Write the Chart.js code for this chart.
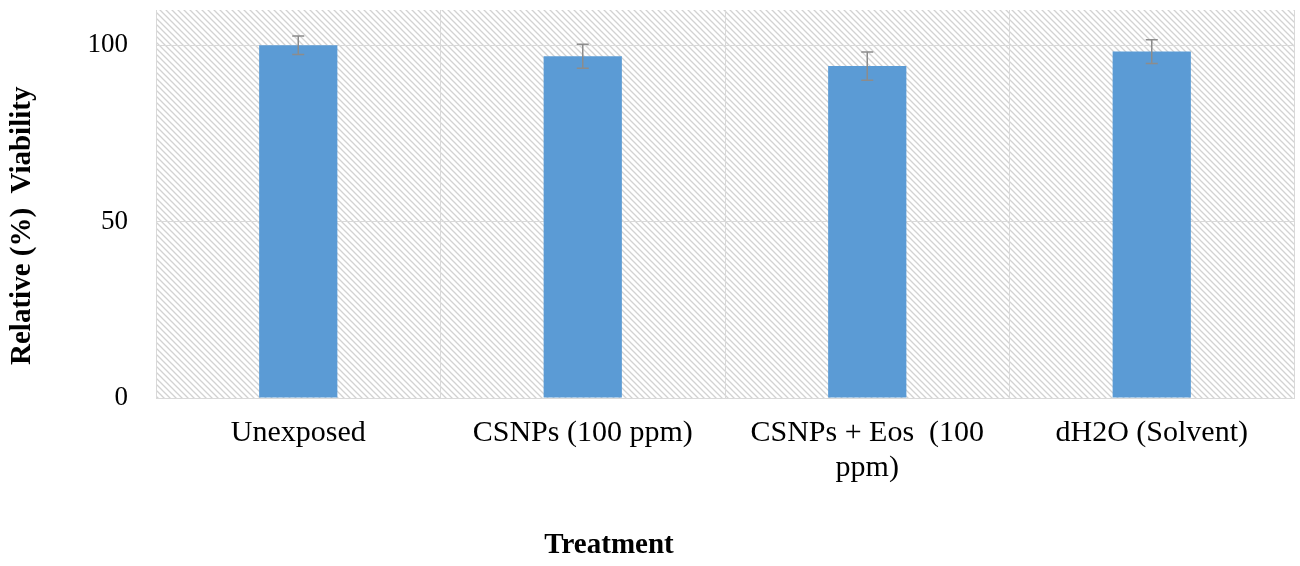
<!DOCTYPE html>
<html>
<head>
<meta charset="utf-8">
<script src="https://cdn.jsdelivr.net/npm/chart.js@4/dist/chart.umd.min.js"></script>
<style>
  html, body { margin: 0; padding: 0; background: #fff; }
  #chart { display: block; }
</style>
</head>
<body>
<canvas id="chart" width="1300" height="566"></canvas>
<script>
// data
const treatments = ['Unexposed', 'CSNPs (100 ppm)', ['CSNPs + Eos  (100', 'ppm)'], 'dH2O (Solvent)'];
const viability = [100, 96.9, 94.1, 98.2];
const viabilityErr = [2.6, 3.4, 4.0, 3.4];
const yTicks = [0, 50, 100];

const serif = "'Liberation Serif', 'Times New Roman', serif";

// Excel put the axis titles off-centre; trailing spaces push the visible text over
const pad = n => '\u00a0'.repeat(n);

// hatched background of the plot area
const makeHatch = () => {
    const c = document.createElement('canvas');
    c.width = 6;
    c.height = 6;
    const g = c.getContext('2d');
    g.fillStyle = '#ffffff';
    g.fillRect(0, 0, 6, 6);
    g.strokeStyle = '#d2d2d2';
    g.lineWidth = 1.3;
    g.beginPath();
    g.moveTo(-1, -1); g.lineTo(7, 7);
    g.moveTo(-1, 5); g.lineTo(1, 7);
    g.moveTo(5, -1); g.lineTo(7, 1);
    g.stroke();
    return c;
};

const hatchBackground = {
    id: 'hatchBackground',
    beforeDraw(chart) {
        const { ctx, chartArea } = chart;
        ctx.save();
        ctx.fillStyle = ctx.createPattern(makeHatch(), 'repeat');
        ctx.fillRect(chartArea.left, chartArea.top, chartArea.right - chartArea.left, chartArea.bottom - chartArea.top);
        ctx.restore();
    }
};

// error bars drawn through the y scale
const errorBars = {
    id: 'errorBars',
    afterDatasetsDraw(chart) {
        const { ctx } = chart;
        const yScale = chart.scales.y;
        const meta = chart.getDatasetMeta(0);
        ctx.save();
        ctx.strokeStyle = '#8c8c8c';
        ctx.lineWidth = 1.5;
        meta.data.forEach((bar, i) => {
            const v = viability[i];
            const e = viabilityErr[i];
            const yTop = yScale.getPixelForValue(v + e);
            const yBot = yScale.getPixelForValue(v - e);
            const x = bar.x;
            ctx.beginPath();
            ctx.moveTo(x, yTop); ctx.lineTo(x, yBot);
            ctx.moveTo(x - 6, yTop); ctx.lineTo(x + 6, yTop);
            ctx.moveTo(x - 6, yBot); ctx.lineTo(x + 6, yBot);
            ctx.stroke();
        });
        ctx.restore();
    }
};

new Chart(document.getElementById('chart'), {
    type: 'bar',
    data: {
        labels: treatments,
        datasets: [
            {
                label: 'Relative (%) Viability',
                data: viability,
                backgroundColor: '#5b9bd5',
                borderWidth: 0,
                categoryPercentage: 1,
                barPercentage: 0.275,
            },
        ],
    },
    options: {
        responsive: false,
        animation: false,
        devicePixelRatio: 1,
        layout: { padding: { top: 10, right: 6, left: 0, bottom: 0 } },
        plugins: {
            legend: { display: false },
            tooltip: { enabled: false },
        },
        scales: {
            x: {
                grid: { color: '#d9d9d9', lineWidth: 1, drawTicks: false, offset: true },
                border: { color: '#d9d9d9' },
                ticks: {
                    color: '#000',
                    font: { family: serif, size: 30, lineHeight: 1.15 },
                    padding: 18,
                    maxRotation: 0,
                    autoSkip: false,
                },
                title: {
                    display: true,
                    text: 'Treatment' + pad(32),
                    color: '#000',
                    font: { family: serif, size: 29, weight: 'bold' },
                    padding: { top: 0, bottom: 3 },
                },
                afterFit(scale) {
                    scale.height = 168;
                    scale.paddingLeft = 0;
                    scale.paddingRight = 0;
                },
            },
            y: {
                min: 0,
                max: 110,
                afterBuildTicks(scale) {
                    scale.ticks = yTicks.map(v => ({ value: v }));
                },
                grid: { color: '#d9d9d9', lineWidth: 1, drawTicks: false },
                border: { color: '#d9d9d9' },
                ticks: {
                    color: '#000',
                    font: { family: serif, size: 27 },
                    padding: 28,
                },
                title: {
                    display: true,
                    text: 'Relative (%)  Viability' + pad(6),
                    color: '#000',
                    font: { family: serif, size: 29, weight: 'bold' },
                    padding: { top: 5, bottom: 0 },
                },
                afterFit(scale) {
                    scale.width = 156;
                    scale.paddingTop = 0;
                    scale.paddingBottom = 0;
                },
            },
        },
    },
    plugins: [hatchBackground, errorBars],
});
</script>
</body>
</html>
